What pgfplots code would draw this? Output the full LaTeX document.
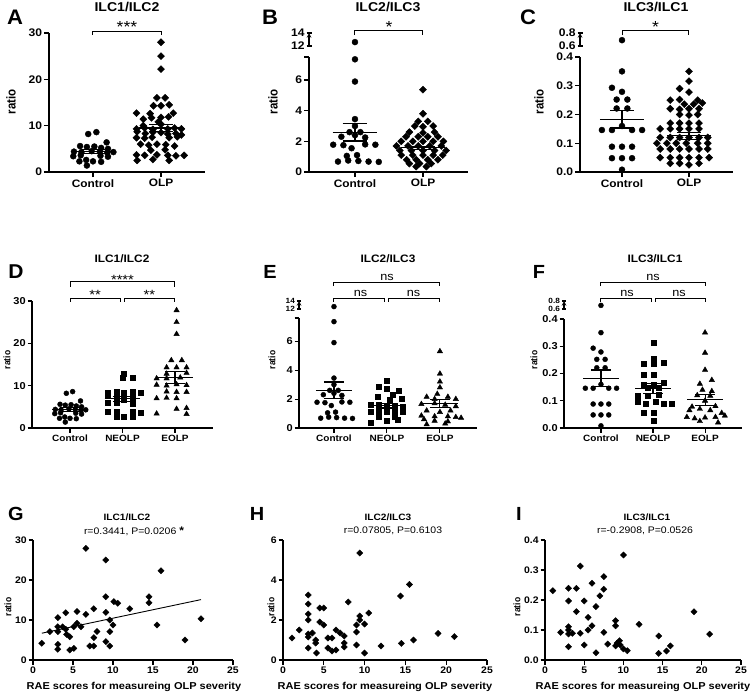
\documentclass[border=0pt]{standalone}
\usepackage{fontspec}
\setmainfont{Liberation Sans}
\usepackage{pgfplots}
\pgfplotsset{compat=1.18}

\newcommand\fs[1]{\fontsize{#1}{#1}\selectfont}

% mean line + SEM bar: x, mean, sem, half width of mean line, half width of caps
\newcommand\msem[5]{%
  \pgfmathsetmacro\mA{#1-#4}\pgfmathsetmacro\mB{#1+#4}%
  \pgfmathsetmacro\cA{#1-#5}\pgfmathsetmacro\cB{#1+#5}%
  \pgfmathsetmacro\eA{#2-#3}\pgfmathsetmacro\eB{#2+#3}%
  \edef\msemtmp{%
    \noexpand\addplot[sem] coordinates {(\mA,#2) (\mB,#2)};
    \noexpand\addplot[sem] coordinates {(\cA,\eA) (\cB,\eA)};
    \noexpand\addplot[sem] coordinates {(\cA,\eB) (\cB,\eB)};
    \noexpand\addplot[sem] coordinates {(#1,\eA) (#1,\eB)};}%
  \msemtmp}

\pgfplotsset{
  gp/.style={scale only axis, axis lines=left, axis line style={-, line width=1.1pt},
    tick align=outside, major tick length=5pt, tick style={black, line width=1.1pt},
    clip=false, /pgf/number format/assume math mode=true,
    yticklabel style={inner xsep=1.5pt, xscale=1.1}, xticklabel style={inner ysep=2pt, xscale=1.1}},
  r1/.style={gp, xtick={0,1}, xticklabels={Control,OLP},
    yticklabel style={font=\bfseries\fs{11}}, xticklabel style={font=\bfseries\fs{10.8}}},
  r2/.style={gp, xtick={0,1,2}, xticklabels={Control,NEOLP,EOLP}, major tick length=4.5pt,
    yticklabel style={font=\bfseries\fs{10}}, xticklabel style={font=\bfseries\fs{9.1}}},
  up/.style={axis x line=none, axis y line=left, xtick=\empty, yticklabel style={inner ysep=0pt}},
  up2/.style={up, yticklabel style={font=\bfseries\fs{7.5}}},
  r3/.style={gp, height=120pt, xmin=0, xmax=25, xtick={0,5,10,15,20,25}, major tick length=4.5pt,
    ticklabel style={font=\bfseries\fs{9.5}}},
  dec/.style={yticklabel style={/pgf/number format/.cd, fixed, fixed zerofill, precision=1}},
  dot1/.style={only marks, mark=*, mark size=3pt, black},
  dia1/.style={only marks, mark=square*, mark options={rotate=45}, mark size=2.5pt, black},
  dot2/.style={only marks, mark=*, mark size=2.5pt, black},
  sq2/.style={only marks, mark=square*, mark size=2.5pt, black},
  tri2/.style={only marks, mark=triangle*, mark size=3.1pt, black},
  dia3/.style={only marks, mark=square*, mark options={rotate=45}, mark size=2.2pt, black},
  sem/.style={black, line width=1.1pt, no marks},
  brk/.style={black, line width=1pt, no marks},
}

\tikzset{
  ttl/.style={font=\bfseries\fs{#1}, xscale=1.1},
  lett/.style={font=\bfseries\fs{#1}, xscale=1.05},
  ylab/.style={font=\bfseries\fs{#1}, rotate=90, yscale=1.12},
  note/.style={font=\fs{#1}, xscale=1.1, anchor=base},
}

\begin{document}
\begin{tikzpicture}
\useasboundingbox (0,0) rectangle (750pt,-693pt);

% ================= A =================
\begin{axis}[r1, at={(49pt,-172pt)}, anchor=south west, width=156pt, height=139pt,
  xmin=-0.647, xmax=1.647, ymin=0, ymax=30, ytick={0,10,20,30}]
\addplot[dot1] coordinates {(-0.07,8.2)(0.05,8.6)(0.2,6.4)(-0.19,5.6)(-0.09,5.4)(0.02,5.5)(0.12,5.2)(0.22,5.0)
  (-0.28,4.4)(-0.17,4.3)(-0.02,4.5)(0.1,4.4)(0.21,4.2)(0.3,4.3)(-0.29,3.4)(-0.18,3.6)(0.11,3.5)(0.22,3.3)
  (-0.2,2.3)(-0.1,2.6)(0.0,2.3)(0.12,2.2)(-0.09,1.4)};
\addplot[dia1] coordinates {(1,28)(1,25)(1,22.2)(0.94,16)(1.06,16)(0.89,14.3)(1.0,14.3)(1.12,14.5)
  (0.64,12.7)(0.84,12.6)(1.18,12.7)(0.74,11.4)(0.86,11.7)(1.0,11.8)(1.11,11.9)(0.96,10.8)(0.74,10.0)(1.0,10.3)
  (0.64,9.3)(0.76,9.5)(0.88,9.2)(1.1,9.3)(1.2,9.5)(1.3,9.3)(0.65,8.7)(0.77,8.3)(0.88,8.6)(1.0,8.5)(1.1,8.2)(1.22,8.3)(1.3,8.0)
  (0.64,7.4)(0.76,7.3)(0.87,7.5)(1.12,7.4)(1.24,7.6)(0.7,6.0)(0.82,5.8)(0.94,6.0)(1.07,5.9)(1.2,5.6)
  (0.85,4.7)(1.06,4.8)(0.64,3.7)(0.76,3.6)(0.94,3.7)(1.1,3.6)(1.22,3.5)(1.34,3.6)(0.65,2.5)(0.88,2.7)(1.12,2.5)};
\msem{0}{4.4}{0.4}{0.33}{0.18}
\msem{1}{9.5}{0.7}{0.33}{0.18}
\addplot[brk] coordinates {(0,29.57)(0,30.43)(1,30.43)(1,29.57)};
\node[note=16] at (axis cs:0.5,30.15) {***};
\end{axis}

% ================= B =================
\begin{axis}[r1, at={(309pt,-172pt)}, anchor=south west, width=159pt, height=115pt,
  xmin=-0.676, xmax=1.662, ymin=0, ymax=7.5, ytick={0,2,4,6}, extra y ticks={7.5}, extra y tick labels={}]
\addplot[dot1] coordinates {(0,7.35)(0,5.9)(0,3.45)(0,3.0)(-0.08,2.6)(0.08,2.6)(-0.2,2.3)(0.0,2.4)(0.15,2.25)
  (-0.32,1.78)(-0.17,1.75)(0.15,1.8)(0.3,1.78)(-0.05,1.55)(-0.12,1.05)(0.03,1.1)
  (-0.25,0.68)(-0.1,0.75)(0.05,0.72)(0.2,0.68)(0.35,0.66)};
\addplot[dia1] coordinates {(1,5.37)(1,3.8)(0.93,3.3)(1.07,3.3)(0.88,3.0)(1.0,2.95)(1.15,3.0)(0.8,2.6)(1.0,2.55)(1.17,2.6)
  (0.75,2.3)(0.93,2.3)(1.07,2.3)(1.22,2.3)(0.68,2.0)(0.85,2.0)(1.0,2.0)(1.15,2.0)(1.3,2.0)
  (0.61,1.7)(0.78,1.7)(0.93,1.7)(1.1,1.7)(1.27,1.7)(0.66,1.4)(0.83,1.4)(1.0,1.4)(1.17,1.4)(1.34,1.4)
  (0.68,1.1)(0.85,1.1)(1.0,1.1)(1.15,1.1)(1.29,1.1)(0.76,0.8)(0.9,0.8)(1.07,0.8)(1.22,0.8)
  (0.8,0.55)(0.95,0.55)(1.12,0.55)(0.9,0.35)(1.05,0.35)};
\msem{0}{2.6}{0.58}{0.33}{0.18}
\msem{1}{1.57}{0.12}{0.33}{0.18}
\end{axis}
\begin{axis}[r1, up, at={(309pt,-46pt)}, anchor=south west, width=159pt, height=13pt,
  xmin=-0.676, xmax=1.662, ymin=12, ymax=14, ytick={12,14}]
\addplot[dot1] coordinates {(0,12.6)};
\addplot[brk] coordinates {(0,13.69)(0,14.31)(1,14.31)(1,13.69)};
\node[note=16] at (axis cs:0.5,14.11) {*};
\end{axis}

% ================= C =================
\begin{axis}[r1, dec, at={(580pt,-172pt)}, anchor=south west, width=153pt, height=115pt,
  xmin=-0.627, xmax=1.657, ymin=0, ymax=0.4, ytick={0,0.1,0.2,0.3,0.4}]
\addplot[dot1] coordinates {(0,0.35)(-0.15,0.293)(0.0,0.279)(-0.08,0.252)(0.08,0.252)(-0.08,0.221)(0.08,0.221)
  (-0.3,0.146)(-0.15,0.146)(0.0,0.16)(0.15,0.146)(0.3,0.146)(-0.15,0.088)(0.0,0.088)(0.15,0.088)
  (-0.15,0.048)(0.0,0.048)(0.15,0.048)(0.0,0.008)};
\addplot[dia1] coordinates {(1,0.35)(1,0.316)(0.86,0.29)(1.0,0.278)(0.72,0.25)(0.86,0.252)(1.13,0.25)(0.93,0.236)(1.07,0.236)(1.2,0.24)
  (0.72,0.22)(0.86,0.218)(1.0,0.22)(1.15,0.22)(0.86,0.2)(1.0,0.198)(1.13,0.2)(0.72,0.17)(0.86,0.17)(1.0,0.17)(1.15,0.17)
  (0.57,0.15)(0.72,0.15)(0.86,0.15)(1.0,0.15)(1.15,0.15)(0.57,0.12)(0.72,0.12)(0.86,0.12)(1.0,0.12)(1.15,0.12)(1.28,0.12)
  (0.52,0.1)(0.67,0.1)(0.81,0.1)(0.96,0.1)(1.13,0.1)(1.28,0.1)(0.57,0.08)(0.72,0.08)(0.86,0.08)(1.0,0.08)(1.15,0.08)(1.28,0.08)
  (0.57,0.05)(0.72,0.05)(0.86,0.05)(1.0,0.05)(1.15,0.05)(1.3,0.05)(0.72,0.03)(0.86,0.03)(1.0,0.025)(1.15,0.03)};
\msem{0}{0.183}{0.03}{0.33}{0.18}
\msem{1}{0.126}{0.012}{0.33}{0.18}
\end{axis}
\begin{axis}[r1, up, dec, at={(580pt,-46pt)}, anchor=south west, width=153pt, height=13pt,
  xmin=-0.627, xmax=1.657, ymin=0.6, ymax=0.8, ytick={0.6,0.8}]
\addplot[dot1] coordinates {(0,0.69)};
\addplot[brk] coordinates {(0,0.769)(0,0.831)(1,0.831)(1,0.769)};
\node[note=16] at (axis cs:0.5,0.811) {*};
\end{axis}

% ================= D =================
\begin{axis}[r2, at={(32pt,-428pt)}, anchor=south west, width=181pt, height=127pt,
  xmin=-0.724, xmax=2.724, ymin=0, ymax=30, ytick={0,10,20,30}]
\addplot[dot2] coordinates {(-0.07,8.2)(0.05,8.6)(0.2,6.4)(-0.19,5.6)(-0.09,5.4)(0.02,5.5)(0.12,5.2)(0.22,5.0)
  (-0.28,4.4)(-0.17,4.3)(-0.02,4.5)(0.1,4.4)(0.21,4.2)(0.3,4.3)(-0.29,3.4)(-0.18,3.6)(0.11,3.5)(0.22,3.3)
  (-0.2,2.3)(-0.1,2.6)(0.0,2.3)(0.12,2.2)(-0.09,1.4)};
\addplot[sq2] coordinates {(1.02,12.9)(1.0,12.0)(1.19,12.0)(0.72,8.4)(0.88,8.5)(1.03,8.4)(1.19,8.5)(1.35,8.4)
  (0.72,7.6)(0.88,7.5)(1.19,7.6)(0.88,6.7)(1.03,6.8)(1.19,6.7)(0.72,5.9)(0.88,5.9)(1.19,5.8)
  (0.72,3.9)(0.88,3.8)(1.19,3.8)(1.35,3.7)(0.88,2.6)(1.03,2.6)(1.19,2.6)};
\addplot[tri2] coordinates {(2.03,27.8)(2.03,25.0)(2.03,22.2)(1.93,16.0)(2.13,16.0)(1.84,14.3)(2.03,14.3)(2.22,14.3)
  (1.84,12.8)(2.22,13.0)(1.65,11.7)(1.84,11.7)(2.1,11.9)(1.65,10.2)(1.84,10.0)(2.03,10.3)(2.22,10.1)
  (1.84,8.6)(2.03,8.5)(2.22,8.5)(1.65,7.0)(1.84,7.1)(2.03,7.0)(2.03,4.5)(2.22,4.7)(1.65,3.4)(2.22,3.3)};
\msem{0}{4.4}{0.4}{0.34}{0.19}
\msem{1}{6.9}{0.6}{0.34}{0.19}
\msem{2}{12.0}{1.4}{0.34}{0.19}
\addplot[brk] coordinates {(0,33.31)(0,34.49)(2,34.49)(2,33.31)};
\addplot[brk] coordinates {(0,29.84)(0,30.64)(0.965,30.64)(0.965,29.84)};
\addplot[brk] coordinates {(1.03,29.84)(1.03,30.64)(2,30.64)(2,29.84)};
\node[note=13.4] at (axis cs:1,33.83) {****};
\node[note=13.4] at (axis cs:0.48,30.29) {**};
\node[note=13.4] at (axis cs:1.51,30.29) {**};
\end{axis}

% ================= E =================
\begin{axis}[r2, at={(299pt,-428pt)}, anchor=south west, width=178pt, height=110pt,
  xmin=-0.66, xmax=2.70, ymin=0, ymax=7.6, ytick={0,2,4,6}, extra y ticks={7.6}, extra y tick labels={}]
\addplot[dot2] coordinates {(0,7.35)(0,5.9)(0,3.45)(0,3.0)(-0.08,2.6)(0.08,2.6)(-0.2,2.3)(0.0,2.4)(0.15,2.25)
  (-0.32,1.78)(-0.17,1.75)(0.15,1.8)(0.3,1.78)(-0.05,1.55)(-0.12,1.05)(0.03,1.1)
  (-0.25,0.68)(-0.1,0.75)(0.05,0.72)(0.2,0.68)(0.35,0.66)};
\addplot[sq2] coordinates {(1.0,3.25)(0.85,2.85)(1.0,2.7)(1.22,2.55)(1.1,2.3)(0.82,2.15)(1.05,1.95)(1.28,2.0)
  (0.7,1.6)(0.85,1.6)(1.0,1.55)(1.15,1.55)(1.3,1.5)(0.7,1.15)(0.85,1.2)(1.0,1.1)(1.15,1.15)(1.3,1.1)
  (0.85,0.75)(1.15,0.75)(0.7,0.35)(1.0,0.5)(1.2,0.55)};
\addplot[tri2] coordinates {(2,5.3)(2,3.75)(2,3.2)(2,2.8)(1.75,2.15)(1.95,2.35)(2.15,2.15)(1.9,2.0)(2.3,2.0)
  (1.65,1.65)(1.9,1.7)(2.1,1.6)(2.3,1.5)(1.75,1.2)(2.0,1.1)(2.2,1.2)(1.65,0.85)(1.9,0.8)(2.15,0.8)(2.3,0.75)
  (1.7,0.6)(2.4,0.7)(1.9,0.5)(2.15,0.45)(1.75,0.25)(2.1,0.3)};
\msem{0}{2.6}{0.58}{0.34}{0.19}
\msem{1}{1.55}{0.17}{0.34}{0.19}
\msem{2}{1.71}{0.27}{0.34}{0.19}
\end{axis}
\begin{axis}[r2, up2, at={(299pt,-309pt)}, anchor=south west, width=178pt, height=8pt,
  xmin=-0.66, xmax=2.70, ymin=12, ymax=14, ytick={12,14}]
\addplot[dot2] coordinates {(0,12.6)};
\addplot[brk] coordinates {(0,17.75)(0,18.58)(2,18.58)(2,17.75)};
\addplot[brk] coordinates {(0,13.83)(0,14.68)(0.96,14.68)(0.96,13.83)};
\addplot[brk] coordinates {(1.03,13.83)(1.03,14.68)(2,14.68)(2,13.83)};
\node[note=11.5] at (axis cs:1,19.25) {ns};
\node[note=11.5] at (axis cs:0.5,15.25) {ns};
\node[note=11.5] at (axis cs:1.5,15.25) {ns};
\end{axis}

% ================= F =================
\begin{axis}[r2, dec, at={(564pt,-428pt)}, anchor=south west, width=178pt, height=109pt,
  xmin=-0.71, xmax=2.71, ymin=0, ymax=0.4, ytick={0,0.1,0.2,0.3,0.4}]
\addplot[dot2] coordinates {(0,0.35)(-0.15,0.293)(0.0,0.279)(-0.08,0.252)(0.08,0.252)(-0.08,0.221)(0.08,0.221)
  (-0.3,0.146)(-0.15,0.146)(0.0,0.16)(0.15,0.146)(0.3,0.146)(-0.15,0.088)(0.0,0.088)(0.15,0.088)
  (-0.15,0.048)(0.0,0.048)(0.15,0.048)(0.0,0.008)};
\addplot[sq2] coordinates {(1.02,0.314)(1.02,0.255)(0.83,0.236)(1.2,0.238)(1.02,0.236)(0.83,0.197)(1.02,0.197)
  (0.83,0.16)(1.02,0.16)(1.2,0.165)(0.9,0.148)(1.1,0.148)(0.7,0.118)(0.9,0.12)(1.1,0.122)
  (0.7,0.097)(0.86,0.09)(1.05,0.097)(1.2,0.09)(1.36,0.09)(0.83,0.055)(1.02,0.055)(1.02,0.025)};
\addplot[tri2] coordinates {(2,0.35)(2,0.276)(2,0.213)(2.13,0.176)(1.9,0.162)(1.95,0.14)(2.13,0.135)(1.85,0.12)(2.1,0.118)
  (2,0.1)(1.75,0.078)(2.2,0.08)(1.7,0.065)(1.9,0.07)(2.1,0.065)(2.32,0.055)(1.65,0.04)(1.8,0.035)(2.0,0.038)(2.2,0.04)(2.38,0.045)
  (1.9,0.025)(2.25,0.02)};
\msem{0}{0.183}{0.03}{0.34}{0.19}
\msem{1}{0.146}{0.018}{0.34}{0.19}
\msem{2}{0.103}{0.02}{0.34}{0.19}
\end{axis}
\begin{axis}[r2, up2, dec, at={(564pt,-309pt)}, anchor=south west, width=178pt, height=8pt,
  xmin=-0.71, xmax=2.71, ymin=0.6, ymax=0.8, ytick={0.6,0.8}]
\addplot[dot2] coordinates {(0,0.69)};
\addplot[brk] coordinates {(0,1.175)(0,1.2575)(2,1.2575)(2,1.175)};
\addplot[brk] coordinates {(0,0.7825)(0,0.8675)(0.98,0.8675)(0.98,0.7825)};
\addplot[brk] coordinates {(1.04,0.7825)(1.04,0.8675)(2,0.8675)(2,0.7825)};
\node[note=11.5] at (axis cs:1,1.325) {ns};
\node[note=11.5] at (axis cs:0.5,0.925) {ns};
\node[note=11.5] at (axis cs:1.5,0.925) {ns};
\end{axis}

% ================= G =================
\begin{axis}[r3, at={(33pt,-660pt)}, anchor=south west, width=200pt, ymin=0, ymax=30, ytick={0,10,20,30}]
\addplot[dia3] coordinates {(1.1,4.2)(2.1,7.1)(3.1,10.6)(3.1,8.3)(3.1,7.1)(3.1,3.9)(3.1,2.7)(3.7,8.3)(4.1,11.8)(4.1,7.7)
  (4.2,6.4)(4.6,5.8)(4.6,2.5)(5.1,2.9)(5.1,8.3)(5.5,12.1)(5.5,9.2)(6.0,8.3)(6.6,11.4)(6.6,27.9)(7.1,3.5)(7.6,12.8)
  (7.6,5.6)(7.6,3.5)(8.0,7.1)(9.1,11.9)(9.1,15.8)(9.1,25.0)(9.1,4.6)(9.6,3.5)(9.6,7.1)(9.6,10.0)(10.0,8.75)(10.1,14.6)
  (10.6,14.2)(12.1,12.8)(14.5,15.8)(14.5,14.3)(16.0,22.3)(15.5,8.75)(19.0,5.0)(21.0,10.3)};
\addplot[black, line width=0.9pt] coordinates {(1.1,6.7)(21,15.1)};
\end{axis}

% ================= H =================
\begin{axis}[r3, at={(283pt,-660pt)}, anchor=south west, width=204pt, ymin=0, ymax=6, ytick={0,2,4,6}]
\addplot[dia3] coordinates {(1.1,1.1)(2.0,1.5)(3.1,3.25)(3.1,2.8)(3.1,2.3)(3.1,2.0)(3.1,1.3)(3.1,1.15)(3.1,0.6)
  (3.6,1.35)(4.0,1.0)(4.0,0.85)(4.1,0.35)(4.5,2.6)(4.5,1.9)(5.0,2.6)(5.0,1.75)(5.5,1.1)(5.5,0.6)(6.0,1.1)(6.0,0.45)
  (6.5,1.5)(6.5,0.5)(7.0,1.35)(7.5,1.2)(7.5,0.85)(7.5,0.65)(8.0,2.9)(9.0,1.75)(9.0,1.4)(9.0,0.75)(9.4,5.35)(9.4,2.2)
  (9.4,2.0)(10.0,1.8)(10.0,0.35)(10.5,2.35)(12.0,0.7)(14.4,3.2)(15.5,3.78)(14.5,0.83)(16.0,1.0)(19.0,1.33)(21.0,1.17)};
\end{axis}

% ================= I =================
\begin{axis}[r3, dec, at={(545pt,-660pt)}, anchor=south west, width=196pt, ymin=0, ymax=0.4, ytick={0,0.1,0.2,0.3,0.4}]
\addplot[dia3] coordinates {(1.0,0.231)(2.0,0.092)(3.0,0.239)(3.0,0.197)(3.0,0.111)(3.0,0.1)(3.0,0.087)(3.0,0.044)
  (3.5,0.089)(4.0,0.239)(4.0,0.161)(4.5,0.313)(4.5,0.089)(5.0,0.197)(5.0,0.05)(5.5,0.142)(5.5,0.1)(6.0,0.256)(6.0,0.114)
  (6.5,0.178)(6.5,0.024)(7.0,0.214)(7.5,0.278)(7.5,0.236)(7.5,0.092)(8.0,0.053)(9.0,0.131)(9.0,0.114)(9.0,0.047)
  (9.2,0.056)(9.5,0.064)(9.6,0.05)(10.0,0.037)(10.0,0.35)(10.5,0.031)(12.0,0.119)(14.5,0.08)(14.5,0.022)(15.5,0.03)
  (16.0,0.047)(19.0,0.161)(21.0,0.086)};
\end{axis}

% ================= titles, letters, labels =================
\node[ttl=12.8] at (127pt,-7pt) {ILC1/ILC2};
\node[ttl=12.8] at (388pt,-7pt) {ILC2/ILC3};
\node[ttl=12.8] at (656pt,-7pt) {ILC3/ILC1};
\node[ttl=10.8] at (122pt,-259pt) {ILC1/ILC2};
\node[ttl=10.8] at (388pt,-259pt) {ILC2/ILC3};
\node[ttl=10.8] at (655pt,-259pt) {ILC3/ILC1};
\node[ttl=9.2] at (127pt,-517pt) {ILC1/ILC2};
\node[ttl=9.2] at (388pt,-517pt) {ILC2/ILC3};
\node[ttl=9.2] at (647pt,-517pt) {ILC3/ILC1};
\node[note=9.5, anchor=center] at (134pt,-531pt) {r=0.3441, P=0.0206 {\bfseries\fs{11}*}};
\node[note=9.5, anchor=center] at (393pt,-531pt) {r=0.07805, P=0.6103};
\node[note=9.5, anchor=center] at (645pt,-531pt) {r=-0.2908, P=0.0526};

\node[lett=21] at (15pt,-17pt) {A};
\node[lett=21] at (270pt,-17pt) {B};
\node[lett=21] at (528pt,-17pt) {C};
\node[lett=20] at (16pt,-272pt) {D};
\node[lett=19] at (270pt,-272pt) {E};
\node[lett=19] at (539pt,-272pt) {F};
\node[lett=19] at (16pt,-514pt) {G};
\node[lett=19] at (257pt,-514pt) {H};
\node[lett=19] at (519pt,-514pt) {I};

\node[ylab=11.5] at (11pt,-102pt) {ratio};
\node[ylab=11.5] at (273pt,-102pt) {ratio};
\node[ylab=11.5] at (539pt,-102pt) {ratio};
\node[ylab=8.5] at (7pt,-360pt) {ratio};
\node[ylab=8.5] at (272pt,-360pt) {ratio};
\node[ylab=8.5] at (534pt,-360pt) {ratio};
\node[ylab=8.5] at (8pt,-607pt) {ratio};
\node[ylab=8.5] at (271pt,-607pt) {ratio};
\node[ylab=8.5] at (517pt,-607pt) {ratio};

\node[ttl=10] at (134pt,-687pt) {RAE scores for measureing OLP severity};
\node[ttl=10] at (385pt,-687pt) {RAE scores for measureing OLP severity};
\node[ttl=10] at (643pt,-687pt) {RAE scores for measureing OLP severity};
\end{tikzpicture}
\end{document}
